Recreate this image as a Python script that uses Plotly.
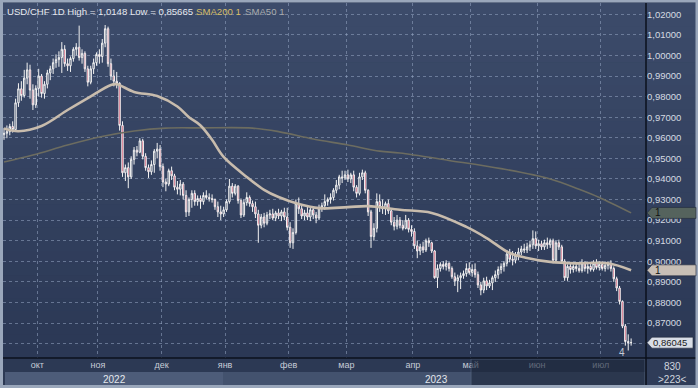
import plotly.graph_objects as go
import pandas as pd

# ---------------- data ----------------
dates = pd.bdate_range("2022-09-15", "2023-07-17")

opens = [
    .9615, .9622, .9630, .9655, .9640, .9770, .9838, .9805, .9890, .9930, .9832, .9760,
    .9840, .9900, .9815, .9860, .9915, .9935, .9965, .9980, .9990, 1.0030, .9960, .9950, .9985, 1.0030, 1.0040, .9990, 1.0010, .9935, .9870, .9935, .9965,
    1.0005, .9995, 1.0060, 1.0130, .9960, .9900, .9875, .9865, .9660, .9430, .9455, .9410, .9495, .9540, .9530, .9585, .9510, .9455, .9435, .9470, .9535, .9545,
    .9460, .9385, .9375, .9440, .9415, .9360, .9350, .9375, .9320, .9240, .9300, .9330, .9290, .9305, .9290, .9320, .9310, .9305, .9300, .9265, .9240, .9230,
    .9250, .9290, .9365, .9330, .9365, .9295, .9225, .9285, .9310, .9280, .9265, .9230, .9175, .9215, .9185, .9225, .9230, .9210, .9235, .9220, .9240, .9215,
    .9165, .9090, .9140, .9280, .9255, .9220, .9235, .9215, .9250, .9225, .9210, .9260, .9270, .9290, .9300, .9310, .9345, .9370, .9410, .9405,
    .9420, .9400, .9420, .9360, .9330, .9410, .9430, .9345, .9240, .9120, .9160, .9290, .9265, .9255, .9280, .9245, .9190, .9170, .9200, .9175, .9160, .9200, .9155,
    .9145, .9075, .9050, .9070, .9055, .9100, .9090, .9050, .8920, .8965, .8985, .8975, .8990, .8965, .8925, .8905, .8920, .8930, .8940, .8965,
    .8945, .8960, .8935, .8885, .8860, .8905, .8880, .8895, .8920, .8935, .8960, .8975, .8990, .9035, .9010, .9005, .9030, .9045, .9060, .9055, .9070, .9080, .9110,
    .9075, .9085, .9070, .9090, .9080, .9100, .9005, .9090, .9070, .9000, .8920, .8975, .8960, .8975, .8965, .8955, .8990, .8965, .8975, .8960, .8990, .8970,
    .8985, .8965, .8980, .8990, .8965, .8915, .8870, .8805, .8685, .8610, .8605,
]
highs = [
    .9648, .9660, .9668, .9680, .9790, .9865, .9875, .9930, .9965, .9955, .9860, .9855,
    .9935, .9910, .9875, .9930, .9950, .9985, 1.0005, 1.0020, 1.0065, 1.0050, .9985, .9995, 1.0040, 1.0060, 1.0145, 1.0030, 1.0020, .9950, .9950, .9985, 1.0015,
    1.0030, 1.0080, 1.0148, 1.0140, .9985, .9930, .9920, .9870, .9680, .9470, .9480, .9510, .9555, .9560, .9598, .9595, .9525, .9470, .9490, .9545, .9575, .9565,
    .9475, .9400, .9450, .9460, .9425, .9390, .9395, .9385, .9345, .9310, .9345, .9345, .9320, .9320, .9335, .9345, .9330, .9325, .9305, .9290, .9270, .9265,
    .9300, .9400, .9380, .9375, .9370, .9305, .9300, .9335, .9320, .9295, .9290, .9250, .9230, .9235, .9240, .9250, .9255, .9245, .9255, .9250, .9260, .9260,
    .9190, .9160, .9300, .9310, .9270, .9250, .9270, .9265, .9260, .9240, .9275, .9285, .9325, .9310, .9330, .9355, .9395, .9420, .9440, .9440,
    .9445, .9430, .9440, .9370, .9430, .9445, .9440, .9350, .9250, .9185, .9330, .9325, .9300, .9290, .9300, .9250, .9215, .9225, .9215, .9200, .9225, .9210, .9175,
    .9160, .9100, .9085, .9095, .9110, .9115, .9095, .9055, .8985, .8995, .9000, .9005, .8995, .8975, .8945, .8935, .8945, .8955, .8990, .8995,
    .8985, .8990, .8950, .8900, .8920, .8925, .8910, .8930, .8955, .8975, .8990, .9000, .9055, .9060, .9050, .9045, .9065, .9075, .9085, .9090, .9100, .9150, .9145,
    .9105, .9100, .9105, .9115, .9110, .9110, .9100, .9105, .9080, .9010, .8985, .8990, .8985, .8995, .8990, .9010, .9000, .8990, .8995, .9005, .9010, .9000,
    .9000, .8990, .9000, .9005, .8975, .8925, .8880, .8810, .8695, .8645, .8625,
]
lows = [
    .9590, .9598, .9612, .9625, .9630, .9750, .9780, .9795, .9860, .9790, .9735, .9745,
    .9800, .9795, .9790, .9840, .9880, .9910, .9940, .9945, .9915, .9945, .9925, .9920, .9970, 1.0000, .9975, .9960, .9920, .9850, .9860, .9910, .9950,
    .9960, .9965, 1.0040, .9945, .9880, .9850, .9840, .9635, .9410, .9390, .9355, .9400, .9470, .9510, .9525, .9495, .9440, .9405, .9420, .9430, .9500, .9440,
    .9360, .9340, .9365, .9395, .9345, .9325, .9320, .9300, .9215, .9220, .9260, .9270, .9270, .9255, .9275, .9300, .9290, .9285, .9250, .9215, .9200, .9215,
    .9240, .9280, .9310, .9320, .9280, .9210, .9215, .9270, .9265, .9240, .9210, .9090, .9160, .9165, .9175, .9205, .9200, .9195, .9205, .9195, .9200, .9150,
    .9065, .9060, .9130, .9230, .9205, .9200, .9200, .9195, .9205, .9185, .9200, .9240, .9250, .9270, .9280, .9295, .9330, .9350, .9380, .9395,
    .9385, .9380, .9340, .9310, .9320, .9395, .9330, .9220, .9065, .9100, .9140, .9240, .9230, .9225, .9230, .9175, .9150, .9155, .9160, .9150, .9155, .9140, .9120,
    .9060, .9015, .9030, .9040, .9045, .9070, .9040, .8915, .8870, .8950, .8960, .8955, .8950, .8915, .8880, .8850, .8865, .8915, .8925, .8935,
    .8925, .8920, .8870, .8835, .8845, .8860, .8870, .8860, .8900, .8915, .8940, .8950, .8975, .8995, .8980, .8990, .9005, .9030, .9040, .9040, .9050, .9060, .9060,
    .9050, .9055, .9055, .9060, .9065, .8990, .8995, .9055, .8990, .8905, .8905, .8940, .8945, .8950, .8945, .8945, .8950, .8940, .8950, .8950, .8960, .8955,
    .8955, .8950, .8960, .8950, .8900, .8855, .8790, .8675, .8590, .85665, .8590,
]
closes = [
    .9622, .9630, .9655, .9640, .9770, .9838, .9805, .9890, .9930, .9832, .9760, .9840,
    .9900, .9815, .9860, .9915, .9935, .9965, .9980, .9990, 1.0030, .9960, .9950, .9985, 1.0030, 1.0040, .9990, 1.0010, .9935, .9870, .9935, .9965, 1.0005,
    .9995, 1.0060, 1.0130, .9960, .9900, .9875, .9865, .9660, .9430, .9455, .9410, .9495, .9540, .9530, .9585, .9510, .9455, .9435, .9470, .9535, .9545, .9460,
    .9385, .9375, .9440, .9415, .9360, .9350, .9375, .9320, .9240, .9300, .9330, .9290, .9305, .9290, .9320, .9310, .9305, .9300, .9265, .9240, .9230, .9250,
    .9290, .9365, .9330, .9365, .9295, .9225, .9285, .9310, .9280, .9265, .9230, .9175, .9215, .9185, .9225, .9230, .9210, .9235, .9220, .9240, .9215, .9165,
    .9090, .9140, .9280, .9255, .9220, .9235, .9215, .9250, .9225, .9210, .9260, .9270, .9290, .9300, .9310, .9345, .9370, .9410, .9405, .9420,
    .9400, .9420, .9360, .9330, .9410, .9430, .9345, .9240, .9120, .9160, .9290, .9265, .9255, .9280, .9245, .9190, .9170, .9200, .9175, .9160, .9200, .9155, .9145,
    .9075, .9050, .9070, .9055, .9100, .9090, .9050, .8920, .8965, .8985, .8975, .8990, .8965, .8925, .8905, .8920, .8930, .8940, .8965, .8945,
    .8960, .8935, .8885, .8860, .8905, .8880, .8895, .8920, .8935, .8960, .8975, .8990, .9035, .9010, .9005, .9030, .9045, .9060, .9055, .9070, .9080, .9110, .9075,
    .9085, .9070, .9090, .9080, .9100, .9005, .9090, .9070, .9000, .8920, .8975, .8960, .8975, .8965, .8955, .8990, .8965, .8975, .8960, .8990, .8970, .8985,
    .8965, .8980, .8990, .8965, .8915, .8870, .8805, .8685, .8610, .8605, .86045,
]

sma50_dates = ["2022-09-15", "2022-09-22", "2022-10-04", "2022-10-17", "2022-10-26", "2022-11-07",
               "2022-11-09", "2022-11-17", "2022-11-29", "2022-12-08", "2022-12-14", "2022-12-20",
               "2022-12-26", "2022-12-30", "2023-01-11", "2023-01-19", "2023-01-26", "2023-02-06",
               "2023-02-15", "2023-03-01", "2023-03-10", "2023-03-27", "2023-04-11", "2023-04-27",
               "2023-05-08", "2023-05-18", "2023-05-26", "2023-06-07", "2023-06-20", "2023-07-05",
               "2023-07-17"]
sma50_vals = [.9645, .9632, .9657, .9735, .9793, .9857, .9860, .9823, .9803, .9752, .9700, .9660,
              .9590, .9507, .9410, .9347, .9312, .9278, .9258, .9263, .9268, .9250, .9235, .9167,
              .9113, .9040, .9016, .8997, .8990, .8990, .8956]

sma200_dates = ["2022-09-15", "2022-09-29", "2022-10-17", "2022-11-01", "2022-11-17", "2022-12-02",
                "2022-12-20", "2023-01-13", "2023-01-26", "2023-02-13", "2023-03-01", "2023-03-16",
                "2023-03-27", "2023-04-19", "2023-05-15", "2023-06-07", "2023-06-21", "2023-06-30",
                "2023-07-17"]
sma200_vals = [.9482, .9516, .9565, .9604, .9633, .9647, .9648, .9647, .9630, .9594, .9565, .9535,
               .9526, .9490, .9450, .9400, .9350, .9310, .9235]

month_names = {10: "окт", 11: "ноя", 12: "дек", 1: "янв", 2: "фев", 3: "мар",
               4: "апр", 5: "май", 6: "июн", 7: "июл"}
y_ticks = [0.86, 0.87, 0.88, 0.89, 0.90, 0.91, 0.92, 0.93, 0.94, 0.95, 0.96, 0.97,
           0.98, 0.99, 1.00, 1.01, 1.02]
last_price = closes[-1]

# ---------------- geometry helpers ----------------
W, H = 698, 388
ML, MR, MT, MB = 3, 52, 3, 30
PW, PH = W - ML - MR, H - MT - MB
BOT = H - MB


def px(p):
    return (p - ML) / PW


def py(p):
    return (BOT - p) / PH


n = len(closes)
idx = list(range(n))
pos = {d.strftime("%Y-%m-%d"): i for i, d in enumerate(dates[:n])}

tickvals, ticktext = [], []
for i in range(1, n):
    if dates[i].month != dates[i - 1].month:
        tickvals.append(i - 0.5)
        ticktext.append(month_names[dates[i].month])

# the last-price tag hides the tick label that sits under it
y_ticktext = [("%.5f" % v).replace(".", ",") if abs(v - last_price) > 0.004 else "" for v in y_ticks]

FONT = "Liberation Sans, Arial, sans-serif"

fig = go.Figure()
fig.add_trace(go.Candlestick(
    x=idx, open=opens, high=highs, low=lows, close=closes,
    increasing=dict(line=dict(color="#f2f2f2", width=1), fillcolor="#34435f"),
    decreasing=dict(line=dict(color="#f2f2f2", width=1), fillcolor="#c8284c"),
    whiskerwidth=0, hoverinfo="skip", showlegend=False,
))
fig.add_trace(go.Scatter(
    x=[pos[d] for d in sma200_dates], y=sma200_vals, mode="lines",
    line=dict(color="#6c6c60", width=1.6, shape="spline", smoothing=1.0),
    hoverinfo="skip", showlegend=False,
))
fig.add_trace(go.Scatter(
    x=[pos[d] for d in sma50_dates], y=sma50_vals, mode="lines",
    line=dict(color="#c8bcad", width=2.6, shape="spline", smoothing=1.0),
    hoverinfo="skip", showlegend=False,
))

shapes = []
# vertical gradient background for plot + right panel
top_c = (60, 75, 106)
bot_c = (43, 56, 85)
NB = 30
for k in range(NB):
    t = k / (NB - 1)
    c = tuple(round(top_c[j] + (bot_c[j] - top_c[j]) * t) for j in range(3))
    y0p = MT + PH * k / NB
    y1p = MT + PH * (k + 1) / NB + 0.6
    shapes.append(dict(type="rect", xref="paper", yref="paper", x0=px(0), x1=px(W),
                       y0=py(y1p), y1=py(y0p), fillcolor="rgb(%d,%d,%d)" % c,
                       line=dict(width=0), layer="below"))
# bottom panel
shapes.append(dict(type="rect", xref="paper", yref="paper", x0=px(0), x1=px(W),
                   y0=py(H), y1=py(BOT), fillcolor="#2c3954", line=dict(width=0), layer="below"))
shapes.append(dict(type="rect", xref="paper", yref="paper", x0=px(5), x1=px(223),
                   y0=py(386), y1=py(372), fillcolor="#4d5c79", line=dict(width=0), layer="below"))
shapes.append(dict(type="rect", xref="paper", yref="paper", x0=px(223), x1=px(645),
                   y0=py(386), y1=py(372), fillcolor="#43526e", line=dict(width=0), layer="below"))
# dimmed window over the end of the time axis
shapes.append(dict(type="rect", xref="paper", yref="paper", x0=px(471), x1=px(645),
                   y0=py(386), y1=py(359), fillcolor="#1c2639", opacity=0.6,
                   line=dict(color="#56657f", width=1), layer="above"))
# bottom right box
shapes.append(dict(type="rect", xref="paper", yref="paper", x0=px(647), x1=px(697),
                   y0=py(386), y1=py(359), fillcolor="#2f3c58", line=dict(width=0), layer="below"))
# separators
shapes.append(dict(type="line", xref="paper", yref="paper", x0=px(ML), x1=px(W),
                   y0=py(BOT), y1=py(BOT), line=dict(color="#0b101c", width=1.5), layer="above"))
shapes.append(dict(type="line", xref="paper", yref="paper", x0=px(646), x1=px(646),
                   y0=py(MT), y1=py(386), line=dict(color="#0b101c", width=1.5), layer="above"))
# outer frame
shapes.append(dict(type="rect", xref="paper", yref="paper", x0=px(1.5), x1=px(W - 1),
                   y0=py(H - 1.5), y1=py(1), fillcolor="rgba(0,0,0,0)",
                   line=dict(color="#9aa7bb", width=3), layer="above"))

# price tags on the right axis
DV = 5.5 / (PH / (1.02549 - 0.85300))


def tag(v, color, x_end):
    return dict(type="path", xref="paper", yref="y", layer="above",
                path="M %f,%f L %f,%f L %f,%f L %f,%f L %f,%f Z" % (
                    px(647), v, px(652), v + DV, px(x_end), v + DV, px(x_end), v - DV, px(652), v - DV),
                fillcolor=color, line=dict(color="#20283a", width=0.6))


shapes.append(tag(sma200_vals[-1], "#55635d", 696))
shapes.append(tag(sma50_vals[-1], "#c8bfb6", 696))
shapes.append(tag(last_price, "#d8dde6", 693))

annotations = [
    dict(text="USD/CHF 1D High = 1,0148 Low = 0,85665", x=px(5), y=py(12), xref="paper", yref="paper",
         xanchor="left", yanchor="middle", showarrow=False, font=dict(family=FONT, size=9.6, color="#e6e9ef")),
    dict(text="SMA200 1", x=px(194), y=py(12), xref="paper", yref="paper",
         xanchor="left", yanchor="middle", showarrow=False, font=dict(family=FONT, size=9.6, color="#d6bc66")),
    dict(text="SMA50 1", x=px(243), y=py(12), xref="paper", yref="paper",
         xanchor="left", yanchor="middle", showarrow=False, font=dict(family=FONT, size=9.6, color="#a9abae")),
    dict(text="2022", x=px(114), y=py(379), xref="paper", yref="paper",
         xanchor="center", yanchor="middle", showarrow=False, font=dict(family=FONT, size=10, color="#e4e8ee")),
    dict(text="2023", x=px(436), y=py(379), xref="paper", yref="paper",
         xanchor="center", yanchor="middle", showarrow=False, font=dict(family=FONT, size=10, color="#e4e8ee")),
    dict(text="830", x=px(672), y=py(366), xref="paper", yref="paper",
         xanchor="center", yanchor="middle", showarrow=False, font=dict(family=FONT, size=10, color="#cfd5de")),
    dict(text="&gt;223&lt;", x=px(672), y=py(380), xref="paper", yref="paper",
         xanchor="center", yanchor="middle", showarrow=False, font=dict(family=FONT, size=10, color="#cfd5de")),
    dict(text="4", x=px(622), y=py(352), xref="paper", yref="paper",
         xanchor="center", yanchor="middle", showarrow=False, font=dict(family=FONT, size=10, color="#c4cad4")),
    dict(text="1", x=px(653), y=sma200_vals[-1], xref="paper", yref="y",
         xanchor="left", yanchor="middle", showarrow=False, font=dict(family=FONT, size=10, color="#111")),
    dict(text="1", x=px(653), y=sma50_vals[-1], xref="paper", yref="y",
         xanchor="left", yanchor="middle", showarrow=False, font=dict(family=FONT, size=10, color="#111")),
    dict(text=("%.5f" % last_price).replace(".", ","), x=px(651), y=last_price, xref="paper", yref="y",
         xanchor="left", yanchor="middle", showarrow=False, font=dict(family=FONT, size=9.5, color="#1a1a1a")),
]

grid_color = "rgba(150,165,195,0.55)"
fig.update_layout(
    width=W, height=H,
    margin=dict(l=ML, r=MR, t=MT, b=MB, pad=0),
    paper_bgcolor="#2c3954", plot_bgcolor="rgba(0,0,0,0)",
    showlegend=False, hovermode=False,
    shapes=shapes, annotations=annotations,
    xaxis=dict(range=[-0.35, 222.15], tickvals=tickvals, ticktext=ticktext,
               showgrid=True, gridcolor=grid_color, griddash="3px,3px", gridwidth=1,
               zeroline=False, showline=False, ticks="", rangeslider=dict(visible=False),
               tickfont=dict(family=FONT, size=9, color="#c6ccd7"), fixedrange=True),
    yaxis=dict(range=[0.85300, 1.02549], side="right", tickvals=y_ticks,
               ticktext=y_ticktext,
               showgrid=True, gridcolor=grid_color, griddash="3px,3px", gridwidth=1,
               zeroline=False, showline=False, ticks="",
               tickfont=dict(family=FONT, size=9.5, color="#d5dae2"), fixedrange=True),
)

fig.write_html("out.html", config={"displayModeBar": False},
               post_script="document.body.style.margin='0px';document.body.style.padding='0px';")
